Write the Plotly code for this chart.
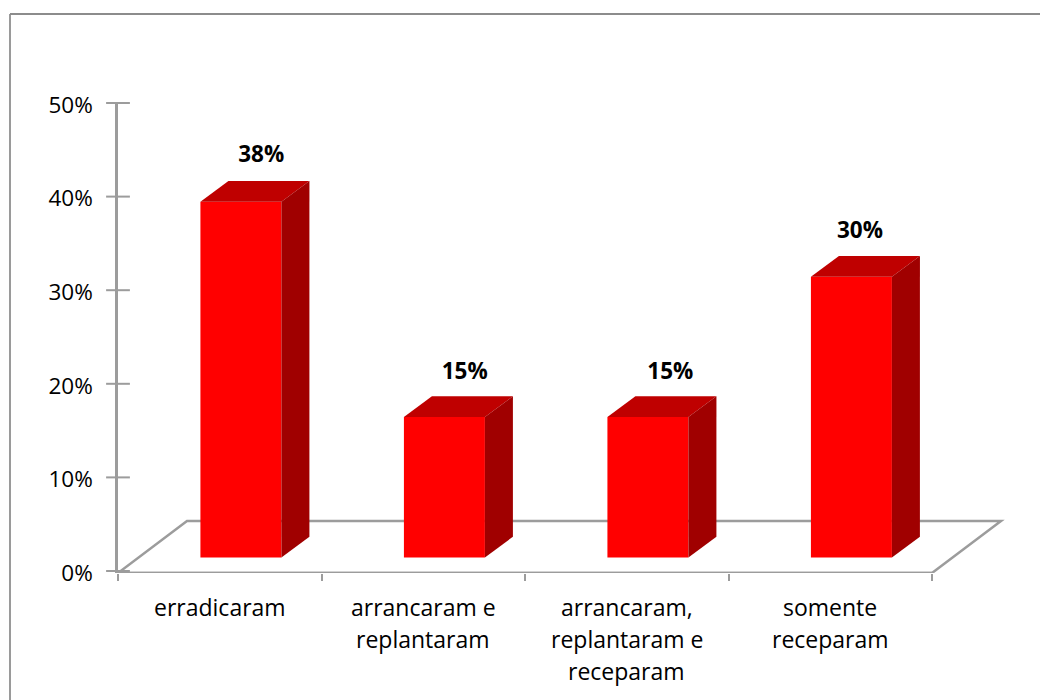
import plotly.graph_objects as go

categories = [["erradicaram"], ["arrancaram e", "replantaram"],
              ["arrancaram,", "replantaram e", "receparam"], ["somente", "receparam"]]
values = [0.38, 0.15, 0.15, 0.30]
labels = ["38%", "15%", "15%", "30%"]
y_ticks = [0, 0.1, 0.2, 0.3, 0.4, 0.5]
y_tick_labels = ["0%", "10%", "20%", "30%", "40%", "50%"]
label_shift = [0.10, 0.10, 0.11, 0.042]
label_lift = [0.049, 0.047, 0.047, 0.047]

BASE = 0.0145
BAR_L = 0.405
BAR_W = 0.398
DX = 0.1376
DY = 0.0221
FLOOR_DX = 0.339
FLOOR_DY = 0.0534
Y0 = -0.00214
GRAY = "#9c9c9c"
FONT = "Open Sans"
FS = 22.5
FS_CAT = 23

fig = go.Figure()
xs = [i + BAR_L + BAR_W / 2 for i in range(len(values))]
fig.add_trace(go.Bar(x=xs, y=values, base=BASE, width=BAR_W,
                     marker=dict(color="#ff0000", line=dict(width=0)), showlegend=False))

for i, v in enumerate(values):
    l, r = i + BAR_L, i + BAR_L + BAR_W
    t = BASE + v
    fig.add_trace(go.Scatter(x=[l, l + DX, r + DX, r, l], y=[t, t + DY, t + DY, t, t],
                             mode="lines", fill="toself", fillcolor="#bf0000",
                             line=dict(width=0), showlegend=False, hoverinfo="skip"))
    fig.add_trace(go.Scatter(x=[r, r + DX, r + DX, r, r],
                             y=[t, t + DY, BASE + DY, BASE, t],
                             mode="lines", fill="toself", fillcolor="#a00000",
                             line=dict(width=0), showlegend=False, hoverinfo="skip"))

fig.add_trace(go.Scatter(x=[xs[i] + label_shift[i] for i in range(4)],
                         y=[values[i] + BASE + label_lift[i] for i in range(4)],
                         mode="text", text=[f"<b>{s}</b>" for s in labels],
                         textposition="middle center",
                         textfont=dict(family=FONT, size=FS, color="#000000"),
                         showlegend=False, hoverinfo="skip"))

# crossing y ticks
fig.add_trace(go.Scatter(x=[0] * len(y_ticks), y=y_ticks, mode="markers", cliponaxis=False,
                         marker=dict(symbol="line-ew", size=17, line=dict(color=GRAY, width=2)),
                         showlegend=False, hoverinfo="skip"))

# front edge of the floor, not clipped by the plot area
fig.add_trace(go.Scatter(x=[0, 4], y=[Y0, Y0], mode="lines", cliponaxis=False,
                         line=dict(color=GRAY, width=2.5), showlegend=False, hoverinfo="skip"))

shapes = [
    dict(type="path", layer="below", xref="x", yref="y", line=dict(color=GRAY, width=2.5),
         path=f"M 0 {Y0} L {FLOOR_DX} {FLOOR_DY} L {4 + FLOOR_DX} {FLOOR_DY} L 4 {Y0} Z"),
]
px = lambda p: (p - 118) / 922
py = lambda p: (573 - p) / 470
shapes.append(dict(type="line", xref="paper", yref="paper", x0=px(10), x1=px(10), y0=py(14), y1=py(700),
                   line=dict(color="#9a9a9a", width=2)))
shapes.append(dict(type="line", xref="paper", yref="paper", x0=px(10), x1=px(1040), y0=py(14), y1=py(14),
                   line=dict(color="#8c8c8c", width=2)))

annotations = []
for i, lines in enumerate(categories):
    for k, s in enumerate(lines):
        annotations.append(dict(x=i + 0.5, xref="x", y=0, yref="paper", text=s, showarrow=False,
                                yanchor="middle", xanchor="center", yshift=-34 - 32 * k,
                                font=dict(family=FONT, size=FS_CAT, color="#000000")))

fig.update_layout(
    width=1040, height=700, autosize=False,
    margin=dict(l=118, r=0, t=103, b=127),
    paper_bgcolor="white", plot_bgcolor="white",
    barmode="overlay", showlegend=False,
    shapes=shapes, annotations=annotations,
    font=dict(family=FONT, size=FS, color="#000000"),
    xaxis=dict(range=[0, 922 / 203.5], showgrid=False, zeroline=False, showline=False,
               tickmode="array", tickvals=[0, 1, 2, 3, 4], ticks="outside", ticklen=7,
               tickwidth=2, tickcolor=GRAY, showticklabels=False),
    yaxis=dict(range=[Y0, 0.5], showgrid=False, zeroline=False, showline=True, linecolor=GRAY,
               linewidth=2.5, tickmode="array", tickvals=y_ticks, ticktext=y_tick_labels,
               ticks="", ticklabelstandoff=18, ticklabelshift=2,
               tickfont=dict(family=FONT, size=FS, color="#000000")),
)

fig.write_html("out.html", config={"displayModeBar": False},
               post_script="document.body.style.margin='0';document.body.style.overflow='hidden';")
